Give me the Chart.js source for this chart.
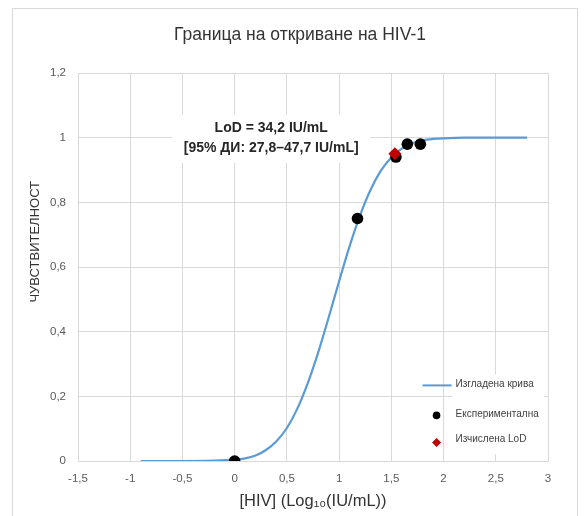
<!DOCTYPE html>
<html>
<head>
<meta charset="utf-8">
<script src="https://cdn.jsdelivr.net/npm/chart.js@4/dist/chart.umd.min.js"></script>
<style>
  html, body { margin: 0; padding: 0; background: #fff; }
  #wrap { width: 584px; height: 516px; position: relative; }
</style>
</head>
<body>
<div id="wrap"><canvas id="c"></canvas></div>
<script>
// ---- Data ----
const chartTitle = 'Граница на откриване на HIV-1';
const xAxisTitle = '[HIV] (Log₁₀(IU/mL))';
const yAxisTitle = 'ЧУВСТВИТЕЛНОСТ';
const seriesNames = ['Изгладена крива', 'Експериментална', 'Изчислена LoD'];
const annotationLines = ['LoD = 34,2 IU/mL', '[95% ДИ: 27,8–47,7 IU/mL]'];

// smoothed curve
const curveX = [-0.9, -0.5, -0.2, 0, 0.1, 0.2, 0.3, 0.4, 0.5, 0.6, 0.7, 0.8, 0.9, 1.0, 1.1, 1.2, 1.3, 1.4, 1.5, 1.6, 1.7, 1.8, 1.9, 2.0, 2.2, 2.5, 2.8];
const curveY = [0, 0, 0.001, 0.004, 0.008, 0.017, 0.034, 0.061, 0.102, 0.162, 0.241, 0.336, 0.444, 0.556, 0.664, 0.759, 0.838, 0.898, 0.939, 0.966, 0.983, 0.992, 0.996, 0.998, 1.0, 1.0, 1.0];

// experimental points
const expX = [0, 1.176, 1.544, 1.653, 1.778];
const expY = [0, 0.75, 0.94, 0.98, 0.98];

// calculated LoD
const lodX = [1.534];
const lodY = [0.95];

// axis ticks
const xMin = -1.5, xMax = 3, xStep = 0.5;
const yMin = 0, yMax = 1.2, yStep = 0.2;

const toPts = (xs, ys) => xs.map((x, i) => ({ x: x, y: ys[i] }));
const fmt = v => String(Number(Number(v).toFixed(2))).replace('.', ',');

const FONT = "'Liberation Sans', Arial, sans-serif";
const GRID = '#d9d9d9';
const TICK = '#595959';

const framePlugin = {
  id: 'frame',
  beforeDraw(chart) {
    const ctx = chart.ctx;
    ctx.save();
    ctx.fillStyle = '#fff';
    ctx.fillRect(0, 0, chart.width, chart.height);
    ctx.strokeStyle = GRID;
    ctx.lineWidth = 1;
    ctx.strokeRect(12.5, 8.5, 565, 520);
    ctx.restore();
  }
};

const overlayPlugin = {
  id: 'overlay',
  afterDatasetsDraw(chart) {
    const ctx = chart.ctx;
    const xs = chart.scales.x, ys = chart.scales.y;
    const area = chart.chartArea;
    ctx.save();

    // y axis title (rotated)
    ctx.save();
    ctx.translate(35, area.top + (area.bottom - area.top) * 0.435);
    ctx.rotate(-Math.PI / 2);
    ctx.fillStyle = '#333';
    ctx.font = "13px " + FONT;
    ctx.textAlign = 'center';
    ctx.textBaseline = 'middle';
    ctx.fillText(yAxisTitle, 0, 0);
    ctx.restore();

    // annotation box
    const ax = xs.getPixelForValue(0.35);
    const ay = ys.getPixelForValue(1.0);
    ctx.fillStyle = '#fff';
    ctx.fillRect(ax - 99, ay - 23, 198, 48);
    ctx.fillStyle = '#262626';
    ctx.font = "bold 14px " + FONT;
    ctx.textAlign = 'center';
    ctx.textBaseline = 'middle';
    ctx.fillText(annotationLines[0], ax, ay - 10);
    ctx.fillText(annotationLines[1], ax, ay + 10);

    // legend
    const lx = xs.getPixelForValue(2.0) + 12;  // text start
    const ly = ys.getPixelForValue(0.24);
    ctx.fillStyle = '#fff';
    ctx.fillRect(lx - 3, ly - 9, 92, 80);
    ctx.font = "10px " + FONT;
    ctx.textAlign = 'left';
    ctx.fillStyle = '#404040';
    const rows = [ly + 1, ly + 31, ly + 56];
    ctx.fillText(seriesNames[0], lx, rows[0]);
    ctx.fillText(seriesNames[1], lx, rows[1]);
    ctx.fillText(seriesNames[2], lx, rows[2]);
    const sx = lx - 19;
    ctx.strokeStyle = '#5b9bd5';
    ctx.lineWidth = 2;
    ctx.beginPath();
    ctx.moveTo(sx - 14, rows[0] + 1);
    ctx.lineTo(sx + 15, rows[0] + 1);
    ctx.stroke();
    ctx.fillStyle = '#000';
    ctx.beginPath();
    ctx.arc(sx, rows[1] + 1, 3.8, 0, Math.PI * 2);
    ctx.fill();
    ctx.fillStyle = '#c00000';
    ctx.beginPath();
    const dy = rows[2] + 3;
    ctx.moveTo(sx, dy - 4.5);
    ctx.lineTo(sx + 4.5, dy);
    ctx.lineTo(sx, dy + 4.5);
    ctx.lineTo(sx - 4.5, dy);
    ctx.closePath();
    ctx.fill();
    ctx.restore();
  }
};

new Chart(document.getElementById('c'), {
  type: 'scatter',
  data: {
    datasets: [
      {
        label: seriesNames[0],
        data: toPts(curveX, curveY),
        showLine: true,
        borderColor: '#5b9bd5',
        backgroundColor: '#5b9bd5',
        borderWidth: 2.2,
        pointRadius: 0,
        cubicInterpolationMode: 'monotone',
        order: 3
      },
      {
        label: seriesNames[1],
        data: toPts(expX, expY),
        showLine: false,
        pointRadius: 5.8,
        pointBackgroundColor: '#000',
        pointBorderColor: '#000',
        pointBorderWidth: 0,
        order: 2
      },
      {
        label: seriesNames[2],
        data: toPts(lodX, lodY),
        showLine: false,
        pointStyle: 'rectRot',
        pointRadius: 6.5,
        pointBackgroundColor: '#c00000',
        pointBorderColor: '#c00000',
        pointBorderWidth: 0,
        order: 1
      }
    ]
  },
  options: {
    responsive: true,
    maintainAspectRatio: false,
    devicePixelRatio: 1,
    animation: false,
    layout: { padding: { left: 16, right: 0, top: 0, bottom: 0 } },
    plugins: {
      legend: { display: false },
      tooltip: { enabled: false },
      title: {
        display: true,
        text: chartTitle,
        color: '#333',
        font: { family: FONT, size: 17.5, weight: 'normal' },
        padding: { top: 25, bottom: 27 }
      }
    },
    scales: {
      x: {
        type: 'linear',
        min: xMin, max: xMax,
        afterFit(s) { s.height = 55; },
        ticks: {
          stepSize: xStep,
          color: TICK,
          font: { family: FONT, size: 11.5 },
          padding: 11,
          maxRotation: 0,
          callback: v => fmt(v)
        },
        grid: { color: GRID, lineWidth: 1, drawTicks: false },
        border: { color: GRID, width: 1 },
        title: {
          display: true,
          text: xAxisTitle,
          color: '#333',
          font: { family: FONT, size: 16.5 },
          padding: { top: 0, bottom: 5 }
        }
      },
      y: {
        type: 'linear',
        min: yMin, max: yMax,
        afterFit(s) { s.width = 62; },
        ticks: {
          stepSize: yStep,
          color: TICK,
          font: { family: FONT, size: 11.5 },
          padding: 12,
          callback: v => fmt(v)
        },
        grid: { color: GRID, lineWidth: 1, drawTicks: false },
        border: { color: GRID, width: 1 }
      },
      yRight: {
        type: 'linear',
        position: 'right',
        display: true,
        afterFit(s) { s.width = 36; },
        ticks: { display: false },
        grid: { display: false, drawTicks: false },
        border: { display: false }
      }
    }
  },
  plugins: [framePlugin, overlayPlugin]
});
</script>
</body>
</html>
